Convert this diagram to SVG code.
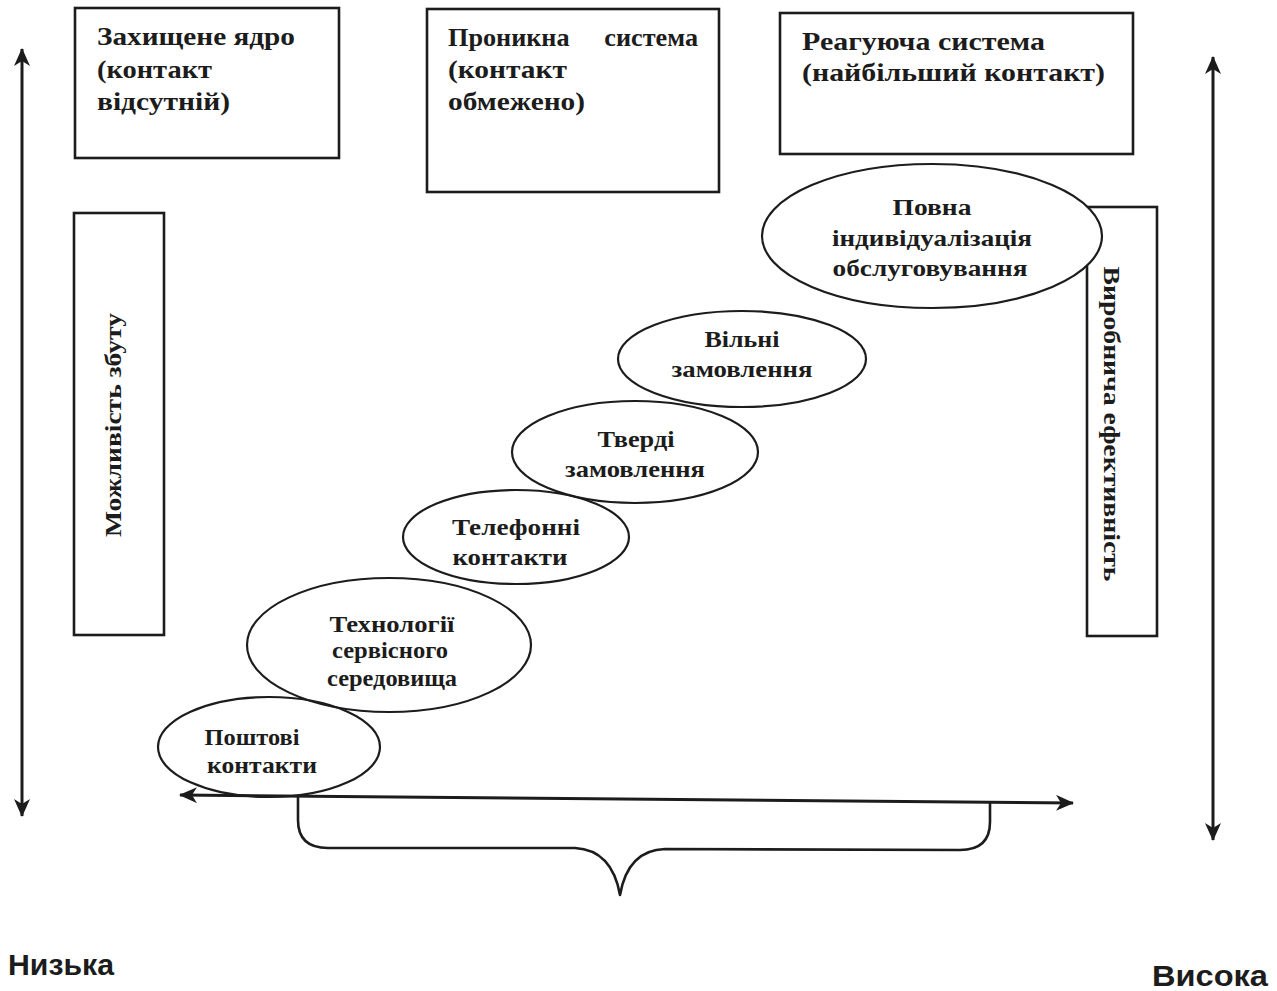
<svg xmlns="http://www.w3.org/2000/svg" width="1277" height="991" viewBox="0 0 1277 991">
<defs>
<style>
.bg{fill:#ffffff}
.box{fill:none;stroke:#1c1c1c;stroke-width:2.6}
.ell{fill:none;stroke:#1c1c1c;stroke-width:2.2}
.ellw{fill:#ffffff;stroke:#1c1c1c;stroke-width:2.2}
.t{font-family:"Liberation Serif","Times New Roman",serif;font-weight:bold;fill:#1c1c1c}
.tb{font-size:26px}
.te{font-size:23px;text-anchor:middle}
.tr{font-size:24px;text-anchor:middle}
.tl{font-family:"Liberation Sans Narrow","Liberation Sans",sans-serif;font-weight:bold;font-size:30px;fill:#1c1c1c}
.ln{fill:none;stroke:#1c1c1c;stroke-width:3}
.br{fill:none;stroke:#1c1c1c;stroke-width:2.6;stroke-linejoin:round}
</style>
<marker id="ah" viewBox="0 0 18 16" refX="17" refY="8" markerWidth="18" markerHeight="16" markerUnits="userSpaceOnUse" orient="auto-start-reverse">
<path d="M0,0 L18,8 L0,16 L5,8 Z" fill="#1c1c1c"/>
</marker>
</defs>
<rect class="bg" x="0" y="0" width="1277" height="991"/>

<g id="connectors">
<line class="ln" x1="22" y1="49" x2="22" y2="816" marker-start="url(#ah)" marker-end="url(#ah)"/>
<line class="ln" x1="1213" y1="57" x2="1213" y2="840" marker-start="url(#ah)" marker-end="url(#ah)"/>
<line class="ln" x1="180" y1="795" x2="1073" y2="803" marker-start="url(#ah)" marker-end="url(#ah)"/>
<path class="br" d="M298,797 L298,820 Q298,848 328,848 L575,848 Q612,850 620,895 Q628,850 665,849 L960,850 Q990,850 990,822 L990,802"/>
</g>

<g id="box-core">
<rect class="box" x="75" y="8" width="264" height="150"/>
<text class="t tb" x="97" y="45" textLength="198" lengthAdjust="spacingAndGlyphs">Захищене ядро</text>
<text class="t tb" x="97" y="78" textLength="115" lengthAdjust="spacingAndGlyphs">(контакт</text>
<text class="t tb" x="97" y="110" textLength="133" lengthAdjust="spacingAndGlyphs">відсутній)</text>
</g>

<g id="box-permeable">
<rect class="box" x="427" y="9" width="292" height="183"/>
<text class="t tb" x="448" y="46" word-spacing="28" textLength="250" lengthAdjust="spacingAndGlyphs">Проникна система</text>
<text class="t tb" x="448" y="78" textLength="119" lengthAdjust="spacingAndGlyphs">(контакт</text>
<text class="t tb" x="448" y="110" textLength="137" lengthAdjust="spacingAndGlyphs">обмежено)</text>
</g>

<g id="box-reactive">
<rect class="box" x="780" y="13" width="353" height="141"/>
<text class="t tb" x="802" y="50" textLength="243" lengthAdjust="spacingAndGlyphs">Реагуюча система</text>
<text class="t tb" x="802" y="81" textLength="303" lengthAdjust="spacingAndGlyphs">(найбільший контакт)</text>
</g>

<g id="box-sales">
<rect class="box" x="74" y="213" width="90" height="422"/>
<text class="t tr" transform="translate(121,425) rotate(-90)" x="0" y="0" textLength="224" lengthAdjust="spacingAndGlyphs">Можливість збуту</text>
</g>

<g id="box-efficiency">
<rect class="box" x="1087" y="207" width="70" height="429"/>
<text class="t tr" transform="translate(1104,424) rotate(90)" x="0" y="0" textLength="315" lengthAdjust="spacingAndGlyphs">Виробнича ефективність</text>
</g>

<g id="ell-full">
<ellipse class="ellw" cx="932" cy="236" rx="170" ry="72"/>
<text class="t te" x="932" y="215" textLength="79" lengthAdjust="spacingAndGlyphs">Повна</text>
<text class="t te" x="932" y="246" textLength="200" lengthAdjust="spacingAndGlyphs">індивідуалізація</text>
<text class="t te" x="930" y="276" textLength="195" lengthAdjust="spacingAndGlyphs">обслуговування</text>
</g>

<g id="ell-free">
<ellipse class="ell" cx="742" cy="359" rx="124" ry="48"/>
<text class="t te" x="742" y="347" textLength="75" lengthAdjust="spacingAndGlyphs">Вільні</text>
<text class="t te" x="742" y="377" textLength="141" lengthAdjust="spacingAndGlyphs">замовлення</text>
</g>

<g id="ell-firm">
<ellipse class="ell" cx="635" cy="452" rx="123" ry="51"/>
<text class="t te" x="636" y="447" textLength="77" lengthAdjust="spacingAndGlyphs">Тверді</text>
<text class="t te" x="635" y="477" textLength="140" lengthAdjust="spacingAndGlyphs">замовлення</text>
</g>

<g id="ell-phone">
<ellipse class="ell" cx="516" cy="537" rx="113" ry="47"/>
<text class="t te" x="516" y="535" textLength="128" lengthAdjust="spacingAndGlyphs">Телефонні</text>
<text class="t te" x="510" y="565" textLength="115" lengthAdjust="spacingAndGlyphs">контакти</text>
</g>

<g id="ell-service">
<ellipse class="ell" cx="389" cy="645" rx="142" ry="67"/>
<text class="t te" x="392" y="632" textLength="125" lengthAdjust="spacingAndGlyphs">Технології</text>
<text class="t te" x="390" y="658" textLength="116" lengthAdjust="spacingAndGlyphs">сервісного</text>
<text class="t te" x="392" y="686" textLength="130" lengthAdjust="spacingAndGlyphs">середовища</text>
</g>

<g id="ell-mail">
<ellipse class="ell" cx="269" cy="747" rx="111" ry="50"/>
<text class="t te" x="252" y="745" textLength="95" lengthAdjust="spacingAndGlyphs">Поштові</text>
<text class="t te" x="262" y="773" textLength="110" lengthAdjust="spacingAndGlyphs">контакти</text>
</g>

<g id="label-low">
<text class="tl" x="8" y="975" textLength="106" lengthAdjust="spacingAndGlyphs">Низька</text>
</g>
<g id="label-high">
<text class="tl" x="1152" y="986" textLength="116" lengthAdjust="spacingAndGlyphs">Висока</text>
</g>
</svg>
